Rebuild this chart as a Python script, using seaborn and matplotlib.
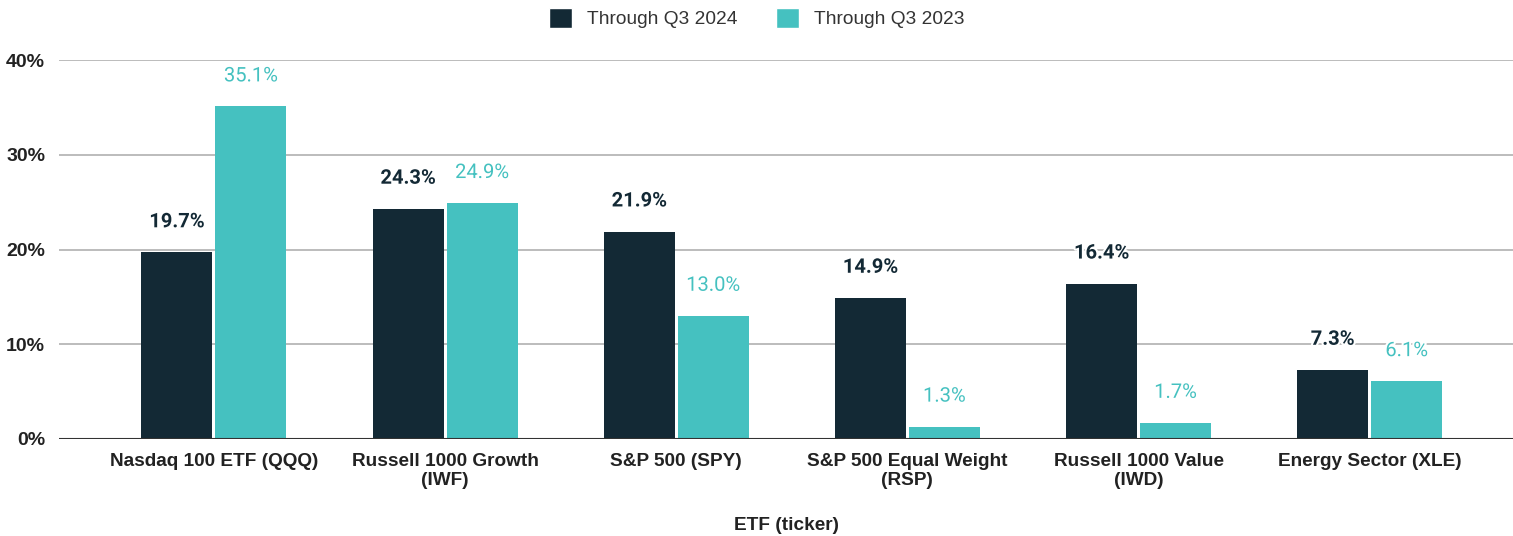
import pandas as pd
import matplotlib.pyplot as plt
import matplotlib.patheffects as pe
from matplotlib.patches import Patch
import seaborn as sns

etfs = ['Nasdaq 100 ETF (QQQ)', 'Russell 1000 Growth\n(IWF)', 'S&P 500 (SPY)',
        'S&P 500 Equal Weight\n(RSP)', 'Russell 1000 Value\n(IWD)', 'Energy Sector (XLE)']
q3_2024 = [19.7, 24.3, 21.9, 14.9, 16.4, 7.3]
q3_2023 = [35.1, 24.9, 13.0, 1.3, 1.7, 6.1]
series = ['Through Q3 2024', 'Through Q3 2023']
colores = ['#132935', '#45c1c0']

df = pd.DataFrame({
    'ETF': etfs * 2,
    'Serie': [series[0]] * len(etfs) + [series[1]] * len(etfs),
    'Valor': q3_2024 + q3_2023,
})

sns.set_style('white')
plt.rcParams['font.family'] = ['Liberation Sans', 'DejaVu Sans']

fig = plt.figure(figsize=(15.13, 5.36), dpi=100)
ax = fig.add_axes([0.039, 0.181, 0.961, 0.707])

sns.barplot(ax=ax, data=df, x='ETF', y='Valor', hue='Serie', order=etfs,
            hue_order=series, palette=colores, width=0.64, gap=0.04,
            legend=False, saturation=1, edgecolor='none')

# etiquetas de valor
for cont, col, peso in zip(ax.containers, colores, ['bold', 'normal']):
    for bar in cont:
        v = bar.get_height()
        ax.annotate(f'{v:.1f}%', (bar.get_x() + bar.get_width() / 2, v),
                    xytext=(0, 22), textcoords='offset points',
                    ha='center', va='center', fontsize=14.5, color=col,
                    fontweight=peso, family=['Roboto', 'DejaVu Sans'],
                    path_effects=[pe.withStroke(linewidth=3, foreground='white')])

ax.set_ylim(0, 40)
ax.set_xlim(-0.67, 5.62)
ax.set_yticks([0, 10, 20, 30, 40])
ax.set_yticklabels(['0%', '10%', '20%', '30%', '40%'], fontsize=14,
                   fontweight='bold', color='#222222')
ax.set_xticks(range(len(etfs)))
ax.set_xticklabels(etfs, fontsize=13.7, fontweight='bold', color='#222222',
                   linespacing=1.15)
ax.tick_params(axis='both', length=0, pad=10)
ax.set_ylabel('')
ax.set_xlabel('ETF (ticker)', fontsize=13.7, fontweight='bold', color='#222222',
              labelpad=20)

ax.grid(axis='y', color='#b0b0b0', linewidth=1.2)
ax.set_axisbelow(True)
for s in ax.spines.values():
    s.set_visible(False)
ax.axhline(0, color='#333333', linewidth=1.5, zorder=3)

handles = [Patch(facecolor=c, label=s) for c, s in zip(colores, series)]
fig.legend(handles=handles, loc='center', bbox_to_anchor=(0.5, 0.966), ncol=2,
           frameon=False, fontsize=13.8, handlelength=1.2, handleheight=1.2,
           columnspacing=2.0, handletextpad=0.8, labelcolor='#333333')

fig.savefig('out.png', dpi=100)
